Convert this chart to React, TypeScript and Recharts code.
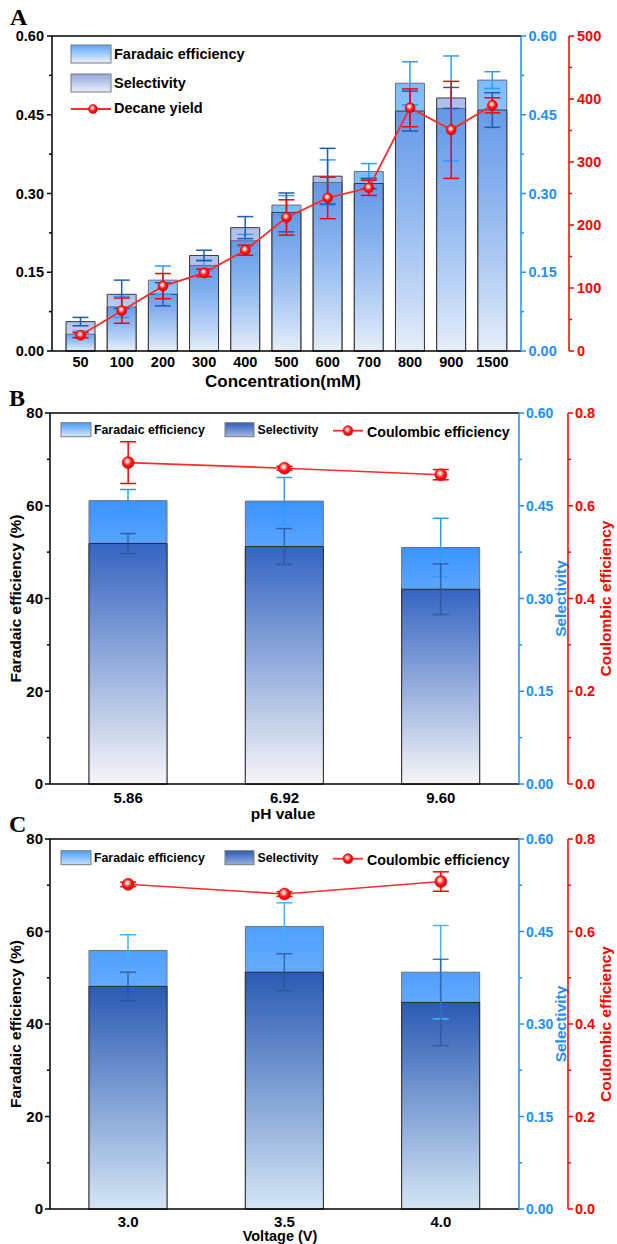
import React from 'react';
import { ComposedChart, Bar, Line, XAxis, YAxis, ErrorBar, ReferenceLine, Customized } from 'recharts';

const FONT = '"Liberation Sans", Arial, Helvetica, sans-serif';
const SERIF = '"Liberation Serif", "Times New Roman", serif';
const BLUE = '#1e8fff';
const RED = '#ff0000';
const LINE_RED = '#ff2a2a';

// ---------- Panel A ----------
const concCategories = ['50', '100', '200', '300', '400', '500', '600', '700', '800', '900', '1500'];
const feA = [0.032, 0.084, 0.135, 0.163, 0.21, 0.278, 0.321, 0.342, 0.51, 0.462, 0.516];
const feErrA = [0.006, 0.02, 0.027, 0.01, 0.012, 0.018, 0.043, 0.015, 0.041, 0.1, 0.016];
const selA = [0.056, 0.108, 0.108, 0.182, 0.235, 0.264, 0.333, 0.319, 0.457, 0.482, 0.459];
const selErrA = [0.008, 0.027, 0.022, 0.01, 0.021, 0.037, 0.053, 0.01, 0.038, 0.02, 0.033];
const decaneYield = [25, 64, 103, 124, 160, 212, 243, 259, 386, 351, 390];
const decaneErr = [4, 20, 20, 6, 8, 28, 33, 12, 30, 77, 12];
const leftTicksA = [0, 0.15, 0.3, 0.45, 0.6];
const redTicksA = [0, 100, 200, 300, 400, 500];

// ---------- Panel B ----------
const phCategories = ['5.86', '6.92', '9.60'];
const feB = [61.1, 61.0, 51.0];
const feErrB = [2.4, 5.1, 6.3];
const selB = [0.389, 0.384, 0.315];
const selErrB = [0.016, 0.029, 0.041];
const ceB = [0.693, 0.681, 0.667];
const ceErrB = [0.045, 0.004, 0.011];

// ---------- Panel C ----------
const voltCategories = ['3.0', '3.5', '4.0'];
const feC = [55.9, 61.1, 51.2];
const feErrC = [3.4, 5.1, 10.1];
const selC = [0.361, 0.384, 0.335];
const selErrC = [0.023, 0.03, 0.07];
const ceC = [0.702, 0.681, 0.708];
const ceErrC = [0.005, 0.005, 0.021];

const leftTicksBC = [0, 20, 40, 60, 80];
const blueTicksBC = [0, 0.15, 0.3, 0.45, 0.6];
const redTicksBC = [0, 0.2, 0.4, 0.6, 0.8];

const withMinors = (majors: number[]) => {
  const out: number[] = [];
  majors.forEach((m, i) => {
    out.push(m);
    if (i < majors.length - 1) out.push((m + majors[i + 1]) / 2);
  });
  return out;
};

const dataA = concCategories.map((c, i) => ({
  c, fe: feA[i], feErr: feErrA[i], sel: selA[i], selErr: selErrA[i], y: decaneYield[i], yErr: decaneErr[i],
}));
const dataB = phCategories.map((c, i) => ({
  c, fe: feB[i], feErr: feErrB[i], sel: selB[i], selErr: selErrB[i], ce: ceB[i], ceErr: ceErrB[i],
}));
const dataC = voltCategories.map((c, i) => ({
  c, fe: feC[i], feErr: feErrC[i], sel: selC[i], selErr: selErrC[i], ce: ceC[i], ceErr: ceErrC[i],
}));

function makeTick(majors: number[], color: string, fs: number, side: 'left' | 'right', digits: number, gap = 3) {
  return (props: any) => {
    const { x, y, payload } = props;
    const v = payload.value;
    const isMajor = majors.some((m) => Math.abs(m - v) < 1e-9);
    const d = side === 'left' ? -1 : 1;
    const len = isMajor ? 5 : 3;
    return (
      <g>
        <line x1={x} y1={y} x2={x + d * len} y2={y} stroke={color} strokeWidth={1.5} />
        {isMajor ? (
          <text
            x={x + d * (len + gap)}
            y={y}
            dy="0.36em"
            textAnchor={side === 'left' ? 'end' : 'start'}
            fill={color}
            fontSize={fs}
            fontWeight="bold"
            fontFamily={FONT}
          >
            {v.toFixed(digits)}
          </text>
        ) : null}
      </g>
    );
  };
}

const Ball = (id: string, r: number) => (p: any) => (
  <circle key={`b-${p.index}`} cx={p.cx} cy={p.cy} r={r} fill={`url(#${id})`} stroke="#e00000" strokeWidth={0.6} />
);

const ballGradient = (id: string) => (
  <radialGradient id={id} cx="0.45" cy="0.42" r="0.6" fx="0.42" fy="0.36">
    <stop offset="0" stopColor="#ffffff" />
    <stop offset="0.25" stopColor="#ffb0b0" />
    <stop offset="0.55" stopColor="#ff1a1a" />
    <stop offset="1" stopColor="#e00000" />
  </radialGradient>
);

const vGrad = (id: string, stops: [number, string, number?][]) => (
  <linearGradient id={id} x1="0" y1="0" x2="0" y2="1">
    {stops.map(([o, c, op], i) => (
      <stop key={i} offset={o} stopColor={c} stopOpacity={op === undefined ? 1 : op} />
    ))}
  </linearGradient>
);

// ---------- Legends / titles ----------
const OverlayA = () => (
  <g fontFamily={FONT} fontWeight="bold" fontSize={14.5}>
    <rect x={71} y={45} width={40} height={18} fill="url(#legFeA)" stroke="#7a7a7a" />
    <text x={114} y={59}>Faradaic efficiency</text>
    <rect x={71} y={74} width={40} height={18} fill="url(#legSelA)" stroke="#7a7a7a" />
    <text x={114} y={87.5}>Selectivity</text>
    <line x1={71} x2={111} y1={109} y2={109} stroke={LINE_RED} strokeWidth={1.8} />
    <circle cx={93} cy={109} r={4.5} fill="url(#ballA)" stroke="#e00000" strokeWidth={0.6} />
    <text x={114} y={113}>Decane yield</text>
    <text x={283} y={387} fontSize={17} textAnchor="middle">Concentration(mM)</text>
  </g>
);

const OverlayBC = ({ xlabel, xlabelX, xlabelY, xlabelSize, plotMid, legY, feId, selId, ballId }: any) => (
  <g fontFamily={FONT} fontWeight="bold">
    <rect x={61} y={legY} width={30} height={14} fill={`url(#${feId})`} stroke="#7a7a7a" />
    <text x={94} y={legY + 11.5} fontSize={12.3}>Faradaic efficiency</text>
    <rect x={225} y={legY} width={29} height={14} fill={`url(#${selId})`} stroke="#7a7a7a" />
    <text x={257.5} y={legY + 11.5} fontSize={12.3}>Selectivity</text>
    <line x1={333} x2={363} y1={legY + 8} y2={legY + 8} stroke={LINE_RED} strokeWidth={1.8} />
    <circle cx={348} cy={legY + 8} r={5} fill={`url(#${ballId})`} stroke="#e00000" strokeWidth={0.6} />
    <text x={367} y={legY + 14.5} fontSize={14.2}>Coulombic efficiency</text>
    <text transform={`translate(21, ${plotMid}) rotate(-90)`} textAnchor="middle" fontSize={15.5} fill="#000">
      Faradaic efficiency (%)
    </text>
    <text transform={`translate(566, ${plotMid}) rotate(-90)`} textAnchor="middle" fontSize={15.5} fill={BLUE}>
      Selectivity
    </text>
    <text transform={`translate(611, ${plotMid}) rotate(-90)`} textAnchor="middle" fontSize={15.5} fill={RED}>
      Coulombic efficiency
    </text>
    <text x={xlabelX} y={xlabelY} fontSize={xlabelSize} textAnchor="middle" fill="#000">
      {xlabel}
    </text>
  </g>
);

const axisLine = (c: string) => ({ stroke: c, strokeWidth: 1.5 });

function ChartA() {
  return (
    <ComposedChart
      width={617}
      height={392}
      data={dataA}
      margin={{ top: 36, right: 8, bottom: 11, left: 0 }}
      barSize={29}
      barGap={-29}
    >
      <defs>
        {vGrad('feA', [[0, '#7bbcff'], [1, '#eef4fc']])}
        {vGrad('selA', [[0, '#3a64c8', 0.42], [1, '#3a64c8', 0.04]])}
        {vGrad('legFeA', [[0, '#5aa6f7'], [1, '#eaf3fd']])}
        {vGrad('legSelA', [[0, '#93a7e0'], [1, '#eaeef9']])}
        {ballGradient('ballA')}
      </defs>
      <XAxis
        dataKey="c"
        interval={0}
        tickLine={false}
        tickSize={0}
        tickMargin={6}
        height={30}
        padding={{ left: 8, right: 8 }}
        axisLine={axisLine('#000')}
        tick={{ fill: '#000', fontSize: 14.5, fontWeight: 'bold', fontFamily: FONT }}
      />
      <YAxis
        yAxisId="left"
        orientation="left"
        width={52}
        type="number"
        domain={[0, 0.6]}
        ticks={withMinors(leftTicksA)}
        interval={0}
        tickSize={0}
        tickMargin={0}
        tickLine={false}
        axisLine={axisLine('#000')}
        tick={makeTick(leftTicksA, '#000', 14.5, 'left', 2)}
      />
      <YAxis
        yAxisId="blue"
        orientation="right"
        width={48}
        type="number"
        domain={[0, 0.6]}
        ticks={withMinors(leftTicksA)}
        interval={0}
        tickSize={0}
        tickMargin={0}
        tickLine={false}
        axisLine={axisLine(BLUE)}
        tick={makeTick(leftTicksA, BLUE, 14.5, 'right', 2, 2.5)}
      />
      <YAxis
        yAxisId="red"
        orientation="right"
        width={40}
        type="number"
        domain={[0, 500]}
        ticks={withMinors(redTicksA)}
        interval={0}
        tickSize={0}
        tickMargin={0}
        tickLine={false}
        axisLine={axisLine(RED)}
        tick={makeTick(redTicksA, RED, 14.5, 'right', 0, 3)}
      />
      <ReferenceLine yAxisId="left" y={0.6} stroke="#000" strokeWidth={1.5} />
      <Bar yAxisId="left" dataKey="fe" fill="url(#feA)" stroke="#6e6e6e" strokeWidth={1} isAnimationActive={false} />
      <Bar yAxisId="blue" dataKey="sel" fill="url(#selA)" stroke="#3a3a3a" strokeWidth={1} isAnimationActive={false} />
      <Bar yAxisId="left" dataKey="fe" fill="none" stroke="none" isAnimationActive={false}>
        <ErrorBar dataKey="feErr" width={8} stroke="#2b9cff" strokeWidth={1.5} direction="y" />
      </Bar>
      <Bar yAxisId="blue" dataKey="sel" fill="none" stroke="none" isAnimationActive={false}>
        <ErrorBar dataKey="selErr" width={8} stroke="#1d5cb5" strokeWidth={1.5} direction="y" />
      </Bar>
      <Line
        yAxisId="red"
        dataKey="y"
        stroke={LINE_RED}
        strokeWidth={1.8}
        dot={Ball('ballA', 5)}
        activeDot={false}
        isAnimationActive={false}
      >
        <ErrorBar dataKey="yErr" width={8} stroke={RED} strokeWidth={1.5} direction="y" />
      </Line>
      <Customized component={<OverlayA />} />
    </ComposedChart>
  );
}

function ChartBC({ data, height, top, bottom, tickMargin, selTop, selBottom, feTop, feMid, feBottom, feErrColor, ids, xlabel, xlabelX, xlabelY, xlabelSize, plotMid, legY, legFe, legSel }: any) {
  return (
    <ComposedChart
      width={617}
      height={height}
      data={data}
      margin={{ top, right: 0, bottom, left: 0 }}
      barSize={78}
      barGap={-78}
    >
      <defs>
        {vGrad(ids.fe, [[0, feTop], [0.25, feMid], [1, feBottom]])}
        {vGrad(ids.sel, [[0, selTop], [1, selBottom]])}
        {vGrad(ids.legFe, legFe)}
        {vGrad(ids.legSel, legSel)}
        {ballGradient(ids.ball)}
      </defs>
      <XAxis
        dataKey="c"
        interval={0}
        tickLine={false}
        tickSize={0}
        tickMargin={tickMargin}
        height={30}
        axisLine={axisLine('#000')}
        tick={{ fill: '#000', fontSize: 15, fontWeight: 'bold', fontFamily: FONT }}
      />
      <YAxis
        yAxisId="left"
        orientation="left"
        width={50}
        type="number"
        domain={[0, 80]}
        ticks={withMinors(leftTicksBC)}
        interval={0}
        tickSize={0}
        tickMargin={0}
        tickLine={false}
        axisLine={axisLine('#000')}
        tick={makeTick(leftTicksBC, '#000', 15, 'left', 0, 2)}
      />
      <YAxis
        yAxisId="blue"
        orientation="right"
        width={49}
        type="number"
        domain={[0, 0.6]}
        ticks={withMinors(blueTicksBC)}
        interval={0}
        tickSize={0}
        tickMargin={0}
        tickLine={false}
        axisLine={axisLine(BLUE)}
        tick={makeTick(blueTicksBC, BLUE, 14, 'right', 2, 2)}
      />
      <YAxis
        yAxisId="red"
        orientation="right"
        width={49}
        type="number"
        domain={[0, 0.8]}
        ticks={withMinors(redTicksBC)}
        interval={0}
        tickSize={0}
        tickMargin={0}
        tickLine={false}
        axisLine={axisLine(RED)}
        tick={makeTick(redTicksBC, RED, 14.5, 'right', 1, 2)}
      />
      <ReferenceLine yAxisId="left" y={80} stroke="#000" strokeWidth={1.5} />
      <Bar yAxisId="left" dataKey="fe" fill={`url(#${ids.fe})`} stroke="#707070" strokeWidth={1} isAnimationActive={false} />
      <Bar yAxisId="blue" dataKey="sel" fill={`url(#${ids.sel})`} stroke="#2a2a2a" strokeWidth={1} isAnimationActive={false} />
      <Bar yAxisId="left" dataKey="fe" fill="none" stroke="none" isAnimationActive={false}>
        <ErrorBar dataKey="feErr" width={8} stroke={feErrColor} strokeWidth={1.5} direction="y" />
      </Bar>
      <Bar yAxisId="blue" dataKey="sel" fill="none" stroke="none" isAnimationActive={false}>
        <ErrorBar dataKey="selErr" width={8} stroke="#2a5598" strokeOpacity={0.8} strokeWidth={1.5} direction="y" />
      </Bar>
      <Line
        yAxisId="red"
        dataKey="ce"
        stroke={LINE_RED}
        strokeWidth={1.6}
        dot={Ball(ids.ball, 6)}
        activeDot={false}
        isAnimationActive={false}
      >
        <ErrorBar dataKey="ceErr" width={8} stroke={RED} strokeWidth={1.5} direction="y" />
      </Line>
      <Customized
        component={
          <OverlayBC
            xlabel={xlabel}
            xlabelX={xlabelX}
            xlabelY={xlabelY}
            xlabelSize={xlabelSize}
            plotMid={plotMid}
            legY={legY}
            feId={ids.legFe}
            selId={ids.legSel}
            ballId={ids.ball}
          />
        }
      />
    </ComposedChart>
  );
}

export default function App() {
  return (
    <div style={{ position: 'absolute', left: 0, top: 0, width: 617, height: 1244, background: '#fff', overflow: 'hidden' }}>
      <div style={{ position: 'absolute', left: 0, top: 0 }}>
        <ChartA />
      </div>
      <div style={{ position: 'absolute', left: 0, top: 392 }}>
        <ChartBC
          data={dataB}
          height={432}
          top={21}
          bottom={10}
          tickMargin={8}
          feTop="#3b94ff"
          feMid="#6aadff"
          feBottom="#cfe4ff"
          selTop="#3464c2"
          selBottom="#f6f6f8"
          feErrColor="#2e9bff"
          ids={{ fe: 'feB', sel: 'selB', legFe: 'legFeB', legSel: 'legSelB', ball: 'ballB' }}
          legFe={[[0, '#4a9cfc'], [1, '#d5e8fd']]}
          legSel={[[0, '#2f5fb7'], [1, '#a3b6e4']]}
          xlabel="pH value"
          xlabelX={283}
          xlabelY={427}
          xlabelSize={15.5}
          plotMid={206.5}
          legY={30.7}
        />
      </div>
      <div style={{ position: 'absolute', left: 0, top: 824 }}>
        <ChartBC
          data={dataC}
          height={420}
          top={15}
          bottom={5}
          tickMargin={7}
          feTop="#4f9fff"
          feMid="#72b3ff"
          feBottom="#cfe4ff"
          selTop="#2a5ab3"
          selBottom="#d4e5f5"
          feErrColor="#41b5ff"
          ids={{ fe: 'feC', sel: 'selC', legFe: 'legFeC', legSel: 'legSelC', ball: 'ballC' }}
          legFe={[[0, '#4e9ffc'], [1, '#c3dffd']]}
          legSel={[[0, '#2b5bb3'], [1, '#98b0e0']]}
          xlabel="Voltage (V)"
          xlabelX={280}
          xlabelY={417}
          xlabelSize={14.5}
          plotMid={200}
          legY={26.7}
        />
      </div>
      <svg
        width={617}
        height={1244}
        style={{ position: 'absolute', left: 0, top: 0, pointerEvents: 'none' }}
      >
        <g fontFamily={SERIF} fontWeight="bold" fontSize={24}>
          <text x={10} y={25}>A</text>
          <text x={9} y={406}>B</text>
          <text x={9} y={832}>C</text>
        </g>
      </svg>
    </div>
  );
}
